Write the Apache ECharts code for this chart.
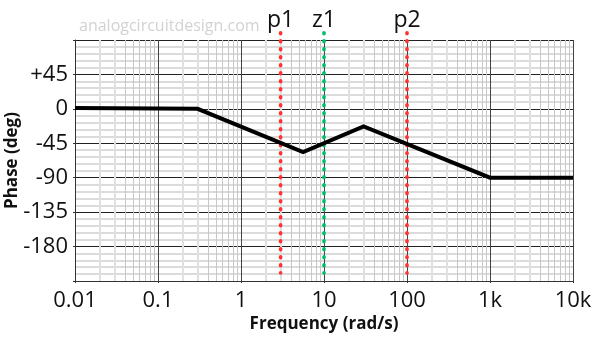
<!DOCTYPE html>
<html>
<head>
<meta charset="utf-8">
<script src="https://cdn.jsdelivr.net/npm/echarts@6/dist/echarts.min.js"></script>
<style>html,body{margin:0;padding:0;background:#fff}#c{width:600px;height:339px}</style>
</head>
<body>
<div id="c"></div>
<script>
// ---- data ----
const freq = [0.01, 0.3, 5.6, 30, 1000, 10000];
const phase = [1.2, 0, -56.5, -23, -90, -90];
const markerNames = ['p1', 'z1', 'p2'];
const markerFreqs = [3, 10, 100];
const markerColors = ['#ff3131', '#00bf63', '#ff3131'];
const xTickValues = [0.01, 0.1, 1, 10, 100, 1000, 10000];
const xTickLabels = ['0.01', '0.1', '1', '10', '100', '1k', '10k'];
const yTickValues = [45, 0, -45, -90, -135, -180];
const yTickLabels = ['+45', '0', '-45', '-90', '-135', '-180'];
const minorMultipliers = [2, 3, 4, 5, 6, 7, 8, 9];

const FONT = 'Open Sans';
const markerTop = 99.5, markerBottom = -214.5;

// minor vertical log grid lines
const minorLines = [];
for (let d = 0; d < xTickValues.length - 1; d++) {
  minorMultipliers.forEach(m => {
    minorLines.push({
      xAxis: xTickValues[d] * m,
      lineStyle: m <= 3 ? {color: '#e0e0e0', width: 2, type: 'solid'} : {color: '#c8c8c8', width: 1, type: 'solid'}
    });
  });
}

const series = [
  {
    type: 'line', data: [], xAxisIndex: 0, yAxisIndex: 0, silent: true, z: 1,
    markLine: { silent: true, z: 0, symbol: 'none', label: {show: false}, animation: false, data: minorLines }
  },
  {
    type: 'line', name: 'phase', z: 6,
    data: freq.map((f, i) => [f, phase[i]]),
    showSymbol: false, symbol: 'none',
    lineStyle: {color: '#000', width: 4, join: 'miter'},
    animation: false
  }
];
markerNames.forEach((n, i) => {
  series.push({
    type: 'line', z: 5, clip: false, animation: false,
    data: [
      {value: [markerFreqs[i], markerTop], label: {show: true, position: 'top', distance: 1, formatter: n, fontFamily: FONT, fontSize: 23, color: '#111'}},
      {value: [markerFreqs[i], markerBottom]}
    ],
    showSymbol: true, symbol: 'circle', symbolSize: 0.01,
    itemStyle: {color: 'transparent'},
    lineStyle: {color: markerColors[i], width: 3.6, type: [1, 7], cap: 'round'}
  });
});

const chart = echarts.init(document.getElementById('c'), null, {renderer: 'canvas'});
chart.setOption({
  animation: false,
  backgroundColor: '#fff',
  title: {
    text: 'analogcircuitdesign.com', left: 74, top: 13,
    textStyle: {fontFamily: FONT, fontSize: 16, fontWeight: 'normal', color: '#d2d2d2'}
  },
  grid: {left: 75, right: 27, top: 40, bottom: 58, containLabel: false, outerBoundsMode: 'none'},
  xAxis: {
    type: 'log', logBase: 10, min: 0.01, max: 10000,
    name: 'Frequency (rad/s)', nameLocation: 'middle', nameGap: 35, nameMoveOverlap: false,
    nameTextStyle: {fontFamily: FONT, fontSize: 17, fontWeight: 'bold', color: '#111'},
    axisLine: {show: true, onZero: false, lineStyle: {color: '#333', width: 1}},
    axisTick: {show: true, length: 2, lineStyle: {color: '#333'}},
    axisLabel: {
      margin: 9, fontFamily: FONT, fontSize: 22, color: '#111',
      formatter: v => { const i = xTickValues.findIndex(t => Math.abs(Math.log10(t) - Math.log10(v)) < 1e-6); return i >= 0 ? xTickLabels[i] : ''; }
    },
    splitLine: {show: true, lineStyle: {color: '#444', width: 1}},
    minorTick: {show: false},
    minorSplitLine: {show: false}
  },
  yAxis: {
    type: 'value', min: -225, max: 90, interval: 45,
    name: 'Phase (deg)', nameLocation: 'middle', nameGap: 54, nameRotate: 90, nameMoveOverlap: false,
    nameTextStyle: {fontFamily: FONT, fontSize: 17, fontWeight: 'bold', color: '#111'},
    axisLine: {show: true, lineStyle: {color: '#333', width: 1}},
    axisTick: {show: true, length: 2, lineStyle: {color: '#333'}},
    axisLabel: {
      margin: 7, fontFamily: FONT, fontSize: 22, color: '#111',
      formatter: v => { const i = yTickValues.indexOf(v); return i >= 0 ? yTickLabels[i] : ''; }
    },
    splitLine: {show: true, lineStyle: {color: '#222', width: 1}},
    minorTick: {show: false, splitNumber: 5},
    minorSplitLine: {show: true, lineStyle: {color: '#cfcfcf', width: 1.5}}
  },
  series: series
});
</script>
</body>
</html>
